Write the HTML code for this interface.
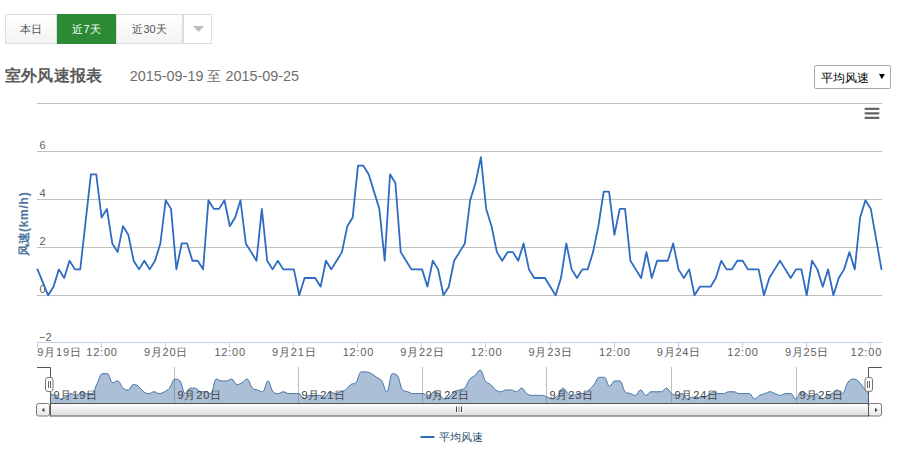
<!DOCTYPE html>
<html><head><meta charset="utf-8"><style>
html,body{margin:0;padding:0;background:#fff;width:900px;height:467px;overflow:hidden;position:relative;font-family:"Liberation Sans", sans-serif;}
.btn{position:absolute;top:14px;height:30px;box-sizing:border-box;border:1px solid #dddddd;background:linear-gradient(#ffffff,#f3f3f3);color:#555;font-size:11px;line-height:28px;text-align:center;}
.on{background:#2c8a35;border-color:#2c8a35;color:#fff;}
.title{position:absolute;left:4.5px;top:65.4px;font-size:16px;letter-spacing:0.4px;font-weight:bold;color:#5a5a5a;line-height:22px;white-space:nowrap;}
.date{position:absolute;left:129.8px;top:66px;font-size:14.4px;color:#6e6e6e;line-height:20px;white-space:nowrap;}
.sel{position:absolute;left:814px;top:65px;width:77px;height:24px;box-sizing:border-box;border:1px solid #a9a9a9;border-radius:2px;background:#fff;font-size:12px;color:#000;line-height:22px;}
</style></head><body>
<div class="btn" style="left:5px;width:52px;">本日</div>
<div class="btn on" style="left:57px;width:59px;">近7天</div>
<div class="btn" style="left:116px;width:67px;">近30天</div>
<div class="btn" style="left:183px;width:29px;background:#fff;"><svg width="12" height="7" style="position:absolute;left:8.5px;top:11px"><path d="M0 0 L11 0 L5.5 6 Z" fill="#bbbbbb"/></svg></div>
<div class="title">室外风速报表</div>
<div class="date">2015-09-19 至 2015-09-25</div>
<div class="sel"><span style="position:absolute;left:6px;top:0.5px">平均风速</span><svg width="8" height="7" style="position:absolute;left:64.4px;top:8px"><path d="M0 0 L5.8 0 L2.9 5.2 Z" fill="#000"/></svg></div>
<svg width="900" height="467" style="position:absolute;left:0;top:0" font-family='"Liberation Sans", sans-serif'>
<path d="M 37 103.5 L 882 103.5" stroke="#C0C0C0" stroke-width="1"/><path d="M 37 151.5 L 882 151.5" stroke="#C0C0C0" stroke-width="1"/><path d="M 37 199.5 L 882 199.5" stroke="#C0C0C0" stroke-width="1"/><path d="M 37 247.5 L 882 247.5" stroke="#C0C0C0" stroke-width="1"/><path d="M 37 295.5 L 882 295.5" stroke="#C0C0C0" stroke-width="1"/>
<path d="M 37 342.5 L 882 342.5" stroke="#C0D0E0" stroke-width="1"/>
<path d="M 37.5 343 L 37.5 348" stroke="#C0D0E0" stroke-width="1"/><path d="M 101.5 343 L 101.5 348" stroke="#C0D0E0" stroke-width="1"/><path d="M 165.5 343 L 165.5 348" stroke="#C0D0E0" stroke-width="1"/><path d="M 229.5 343 L 229.5 348" stroke="#C0D0E0" stroke-width="1"/><path d="M 293.5 343 L 293.5 348" stroke="#C0D0E0" stroke-width="1"/><path d="M 357.5 343 L 357.5 348" stroke="#C0D0E0" stroke-width="1"/><path d="M 421.5 343 L 421.5 348" stroke="#C0D0E0" stroke-width="1"/><path d="M 485.5 343 L 485.5 348" stroke="#C0D0E0" stroke-width="1"/><path d="M 550.5 343 L 550.5 348" stroke="#C0D0E0" stroke-width="1"/><path d="M 614.5 343 L 614.5 348" stroke="#C0D0E0" stroke-width="1"/><path d="M 678.5 343 L 678.5 348" stroke="#C0D0E0" stroke-width="1"/><path d="M 742.5 343 L 742.5 348" stroke="#C0D0E0" stroke-width="1"/><path d="M 806.5 343 L 806.5 348" stroke="#C0D0E0" stroke-width="1"/><path d="M 870.5 343 L 870.5 348" stroke="#C0D0E0" stroke-width="1"/>
<g font-size="11" fill="#606060"><text x="39.6" y="149">6</text><text x="39.6" y="197">4</text><text x="39.6" y="245">2</text><text x="39.6" y="293">0</text><text x="39.2" y="341">−2</text></g>
<g font-size="11" fill="#606060"><text x="37.3" y="356.1" text-anchor="start" letter-spacing="0.8">9月19日</text><text x="102.0" y="356.1" text-anchor="middle" letter-spacing="0.8">12:00</text><text x="166.1" y="356.1" text-anchor="middle" letter-spacing="0.8">9月20日</text><text x="230.2" y="356.1" text-anchor="middle" letter-spacing="0.8">12:00</text><text x="294.3" y="356.1" text-anchor="middle" letter-spacing="0.8">9月21日</text><text x="358.4" y="356.1" text-anchor="middle" letter-spacing="0.8">12:00</text><text x="422.5" y="356.1" text-anchor="middle" letter-spacing="0.8">9月22日</text><text x="486.6" y="356.1" text-anchor="middle" letter-spacing="0.8">12:00</text><text x="550.7" y="356.1" text-anchor="middle" letter-spacing="0.8">9月23日</text><text x="614.8" y="356.1" text-anchor="middle" letter-spacing="0.8">12:00</text><text x="678.9" y="356.1" text-anchor="middle" letter-spacing="0.8">9月24日</text><text x="743.0" y="356.1" text-anchor="middle" letter-spacing="0.8">12:00</text><text x="807.1" y="356.1" text-anchor="middle" letter-spacing="0.8">9月25日</text><text x="866.3" y="356.1" text-anchor="middle" letter-spacing="0.8">12:00</text></g>
<text transform="translate(28.3,223.8) rotate(-90)" text-anchor="middle" font-size="12" font-weight="bold" fill="#4d759e">风速<tspan letter-spacing="0.75">(km/h)</tspan></text>
<path d="M 37.50 269.38 L 42.84 282.34 L 48.18 295.30 L 53.52 286.66 L 58.87 269.38 L 64.21 278.02 L 69.55 260.74 L 74.89 269.38 L 80.23 269.38 L 85.57 221.86 L 90.92 174.34 L 96.26 174.34 L 101.60 217.54 L 106.94 208.90 L 112.28 243.46 L 117.62 252.10 L 122.97 226.18 L 128.31 234.82 L 133.65 260.74 L 138.99 269.38 L 144.33 260.74 L 149.67 269.38 L 155.02 260.74 L 160.36 243.46 L 165.70 200.26 L 171.04 208.90 L 176.38 269.38 L 181.72 243.46 L 187.07 243.46 L 192.41 260.74 L 197.75 260.74 L 203.09 269.38 L 208.43 200.26 L 213.77 208.90 L 219.12 208.90 L 224.46 200.26 L 229.80 226.18 L 235.14 217.54 L 240.48 200.26 L 245.82 243.46 L 251.17 252.10 L 256.51 260.74 L 261.85 208.90 L 267.19 260.74 L 272.53 269.38 L 277.88 260.74 L 283.22 269.38 L 288.56 269.38 L 293.90 269.38 L 299.24 295.30 L 304.58 278.02 L 309.92 278.02 L 315.27 278.02 L 320.61 286.66 L 325.95 260.74 L 331.29 269.38 L 336.63 260.74 L 341.97 252.10 L 347.32 226.18 L 352.66 217.54 L 358.00 165.70 L 363.34 165.70 L 368.68 174.34 L 374.02 191.62 L 379.37 208.90 L 384.71 260.74 L 390.05 174.34 L 395.39 182.98 L 400.73 252.10 L 406.07 260.74 L 411.42 269.38 L 416.76 269.38 L 422.10 269.38 L 427.44 286.66 L 432.78 260.74 L 438.12 269.38 L 443.47 295.30 L 448.81 286.66 L 454.15 260.74 L 459.49 252.10 L 464.83 243.46 L 470.17 200.26 L 475.52 182.98 L 480.86 157.06 L 486.20 208.90 L 491.54 226.18 L 496.88 252.10 L 502.22 260.74 L 507.57 252.10 L 512.91 252.10 L 518.25 260.74 L 523.59 243.46 L 528.93 269.38 L 534.27 278.02 L 539.62 278.02 L 544.96 278.02 L 550.30 286.66 L 555.64 295.30 L 560.98 278.02 L 566.32 243.46 L 571.67 269.38 L 577.01 278.02 L 582.35 269.38 L 587.69 269.38 L 593.03 252.10 L 598.37 226.18 L 603.72 191.62 L 609.06 191.62 L 614.40 234.82 L 619.74 208.90 L 625.08 208.90 L 630.42 260.74 L 635.77 269.38 L 641.11 278.02 L 646.45 252.10 L 651.79 278.02 L 657.13 260.74 L 662.47 260.74 L 667.82 260.74 L 673.16 243.46 L 678.50 269.38 L 683.84 278.02 L 689.18 269.38 L 694.52 295.30 L 699.87 286.66 L 705.21 286.66 L 710.55 286.66 L 715.89 278.02 L 721.23 260.74 L 726.57 269.38 L 731.92 269.38 L 737.26 260.74 L 742.60 260.74 L 747.94 269.38 L 753.28 269.38 L 758.62 269.38 L 763.97 295.30 L 769.31 278.02 L 774.65 269.38 L 779.99 260.74 L 785.33 269.38 L 790.67 278.02 L 796.02 269.38 L 801.36 269.38 L 806.70 295.30 L 812.04 260.74 L 817.38 269.38 L 822.72 286.66 L 828.07 269.38 L 833.41 295.30 L 838.75 278.02 L 844.09 269.38 L 849.43 252.10 L 854.77 269.38 L 860.12 217.54 L 865.46 200.26 L 870.80 208.90 L 876.14 239.14 L 881.48 269.38" fill="none" stroke="#2d6cc0" stroke-width="1.8" stroke-linejoin="round" stroke-linecap="round"/>
<g stroke="#666" stroke-width="2.2" stroke-linecap="round"><path d="M 865.5 108.8 L 878.5 108.8 M 865.5 113.3 L 878.5 113.3 M 865.5 117.8 L 878.5 117.8"/></g>
<!-- navigator -->
<path d="M 174.5 367 L 174.5 403" stroke="#C0C0C0" stroke-width="1"/><path d="M 298.5 367 L 298.5 403" stroke="#C0C0C0" stroke-width="1"/><path d="M 422.5 367 L 422.5 403" stroke="#C0C0C0" stroke-width="1"/><path d="M 546.5 367 L 546.5 403" stroke="#C0C0C0" stroke-width="1"/><path d="M 671.5 367 L 671.5 403" stroke="#C0C0C0" stroke-width="1"/><path d="M 796.5 367 L 796.5 403" stroke="#C0C0C0" stroke-width="1"/>
<path d="M 50.50 393.58 C 50.50 393.58 53.61 395.20 55.68 396.29 C 57.75 397.37 58.78 399.00 60.85 399.00 C 62.92 399.00 63.96 398.28 66.03 397.19 C 68.10 396.11 69.14 393.58 71.21 393.58 C 73.28 393.58 74.31 395.39 76.38 395.39 C 78.45 395.39 79.49 391.77 81.56 391.77 C 83.63 391.77 84.67 393.58 86.74 393.58 C 88.81 393.58 89.84 393.58 91.91 393.58 C 93.98 393.58 95.02 387.61 97.09 383.64 C 99.16 379.66 100.20 373.70 102.27 373.70 C 104.34 373.70 105.37 373.70 107.44 373.70 C 109.51 373.70 110.55 382.74 112.62 382.74 C 114.69 382.74 115.72 380.93 117.80 380.93 C 119.87 380.93 120.90 386.35 122.97 388.16 C 125.04 389.96 126.08 389.96 128.15 389.96 C 130.22 389.96 131.25 384.54 133.33 384.54 C 135.40 384.54 136.43 384.90 138.50 386.35 C 140.57 387.80 141.61 390.33 143.68 391.77 C 145.75 393.22 146.78 393.58 148.86 393.58 C 150.93 393.58 151.96 391.77 154.03 391.77 C 156.10 391.77 157.14 393.58 159.21 393.58 C 161.28 393.58 162.31 392.86 164.38 391.77 C 166.46 390.69 167.49 390.69 169.56 388.16 C 171.63 385.63 172.67 379.12 174.74 379.12 C 176.81 379.12 177.84 379.12 179.91 380.93 C 181.99 382.74 183.02 393.58 185.09 393.58 C 187.16 393.58 188.20 388.16 190.27 388.16 C 192.34 388.16 193.37 388.16 195.44 388.16 C 197.51 388.16 198.55 391.77 200.62 391.77 C 202.69 391.77 203.73 391.77 205.80 391.77 C 207.87 391.77 208.90 393.58 210.97 393.58 C 213.04 393.58 214.08 379.12 216.15 379.12 C 218.22 379.12 219.26 380.93 221.33 380.93 C 223.40 380.93 224.43 380.93 226.50 380.93 C 228.57 380.93 229.61 379.12 231.68 379.12 C 233.75 379.12 234.79 384.54 236.86 384.54 C 238.93 384.54 239.96 383.82 242.03 382.74 C 244.10 381.65 245.14 379.12 247.21 379.12 C 249.28 379.12 250.32 386.35 252.39 388.16 C 254.46 389.96 255.49 389.24 257.56 389.96 C 259.63 390.69 260.67 391.77 262.74 391.77 C 264.81 391.77 265.85 380.93 267.92 380.93 C 269.99 380.93 271.02 389.96 273.09 391.77 C 275.16 393.58 276.20 393.58 278.27 393.58 C 280.34 393.58 281.38 391.77 283.45 391.77 C 285.52 391.77 286.55 393.58 288.62 393.58 C 290.69 393.58 291.73 393.58 293.80 393.58 C 295.87 393.58 296.91 393.58 298.98 393.58 C 301.05 393.58 302.08 399.00 304.15 399.00 C 306.22 399.00 307.26 395.39 309.33 395.39 C 311.40 395.39 312.44 395.39 314.51 395.39 C 316.58 395.39 317.61 395.39 319.68 395.39 C 321.75 395.39 322.79 397.19 324.86 397.19 C 326.93 397.19 327.96 391.77 330.04 391.77 C 332.11 391.77 333.14 393.58 335.21 393.58 C 337.28 393.58 338.32 392.49 340.39 391.77 C 342.46 391.05 343.49 391.41 345.57 389.96 C 347.64 388.52 348.67 385.99 350.74 384.54 C 352.81 383.10 353.85 384.54 355.92 382.74 C 357.99 380.93 359.02 371.89 361.09 371.89 C 363.17 371.89 364.20 371.89 366.27 371.89 C 368.34 371.89 369.38 372.61 371.45 373.70 C 373.52 374.78 374.55 375.87 376.62 377.31 C 378.70 378.76 379.73 378.04 381.80 380.93 C 383.87 383.82 384.91 391.77 386.98 391.77 C 389.05 391.77 390.08 373.70 392.15 373.70 C 394.23 373.70 395.26 373.70 397.33 375.51 C 399.40 377.31 400.44 388.16 402.51 389.96 C 404.58 391.77 405.61 391.05 407.68 391.77 C 409.75 392.49 410.79 393.58 412.86 393.58 C 414.93 393.58 415.97 393.58 418.04 393.58 C 420.11 393.58 421.14 393.58 423.21 393.58 C 425.28 393.58 426.32 397.19 428.39 397.19 C 430.46 397.19 431.50 391.77 433.57 391.77 C 435.64 391.77 436.67 392.13 438.74 393.58 C 440.81 395.02 441.85 399.00 443.92 399.00 C 445.99 399.00 447.03 398.64 449.10 397.19 C 451.17 395.75 452.20 393.22 454.27 391.77 C 456.34 390.33 457.38 390.69 459.45 389.96 C 461.52 389.24 462.56 389.96 464.63 388.16 C 466.70 386.35 467.73 381.65 469.80 379.12 C 471.87 376.59 472.91 377.31 474.98 375.51 C 477.05 373.70 478.09 370.08 480.16 370.08 C 482.23 370.08 483.26 378.04 485.33 380.93 C 487.40 383.82 488.44 382.74 490.51 384.54 C 492.58 386.35 493.62 388.52 495.69 389.96 C 497.76 391.41 498.79 391.77 500.86 391.77 C 502.93 391.77 503.97 389.96 506.04 389.96 C 508.11 389.96 509.15 389.96 511.22 389.96 C 513.29 389.96 514.32 391.77 516.39 391.77 C 518.46 391.77 519.50 388.16 521.57 388.16 C 523.64 388.16 524.67 392.13 526.75 393.58 C 528.82 395.02 529.85 395.39 531.92 395.39 C 533.99 395.39 535.03 395.39 537.10 395.39 C 539.17 395.39 540.20 395.39 542.28 395.39 C 544.35 395.39 545.38 396.47 547.45 397.19 C 549.52 397.92 550.56 399.00 552.63 399.00 C 554.70 399.00 555.73 397.55 557.81 395.39 C 559.88 393.22 560.91 388.16 562.98 388.16 C 565.05 388.16 566.09 392.13 568.16 393.58 C 570.23 395.02 571.26 395.39 573.33 395.39 C 575.41 395.39 576.44 393.58 578.51 393.58 C 580.58 393.58 581.62 393.58 583.69 393.58 C 585.76 393.58 586.79 391.77 588.86 389.96 C 590.94 388.16 591.97 387.07 594.04 384.54 C 596.11 382.01 597.15 377.31 599.22 377.31 C 601.29 377.31 602.32 377.31 604.39 377.31 C 606.46 377.31 607.50 386.35 609.57 386.35 C 611.64 386.35 612.68 380.93 614.75 380.93 C 616.82 380.93 617.85 380.93 619.92 380.93 C 621.99 380.93 623.03 389.96 625.10 391.77 C 627.17 393.58 628.21 392.86 630.28 393.58 C 632.35 394.30 633.38 395.39 635.45 395.39 C 637.52 395.39 638.56 389.96 640.63 389.96 C 642.70 389.96 643.74 395.39 645.81 395.39 C 647.88 395.39 648.91 391.77 650.98 391.77 C 653.05 391.77 654.09 391.77 656.16 391.77 C 658.23 391.77 659.27 391.77 661.34 391.77 C 663.41 391.77 664.44 388.16 666.51 388.16 C 668.58 388.16 669.62 392.13 671.69 393.58 C 673.76 395.02 674.80 395.39 676.87 395.39 C 678.94 395.39 679.97 393.58 682.04 393.58 C 684.11 393.58 685.15 399.00 687.22 399.00 C 689.29 399.00 690.33 397.19 692.40 397.19 C 694.47 397.19 695.50 397.19 697.57 397.19 C 699.64 397.19 700.68 397.19 702.75 397.19 C 704.82 397.19 705.86 396.47 707.93 395.39 C 710.00 394.30 711.03 391.77 713.10 391.77 C 715.17 391.77 716.21 393.58 718.28 393.58 C 720.35 393.58 721.39 393.58 723.46 393.58 C 725.53 393.58 726.56 391.77 728.63 391.77 C 730.70 391.77 731.74 391.77 733.81 391.77 C 735.88 391.77 736.91 393.58 738.99 393.58 C 741.06 393.58 742.09 393.58 744.16 393.58 C 746.23 393.58 747.27 393.58 749.34 393.58 C 751.41 393.58 752.44 399.00 754.52 399.00 C 756.59 399.00 757.62 396.47 759.69 395.39 C 761.76 394.30 762.80 394.30 764.87 393.58 C 766.94 392.86 767.97 391.77 770.04 391.77 C 772.12 391.77 773.15 392.86 775.22 393.58 C 777.29 394.30 778.33 395.39 780.40 395.39 C 782.47 395.39 783.50 393.58 785.57 393.58 C 787.65 393.58 788.68 393.58 790.75 393.58 C 792.82 393.58 793.86 399.00 795.93 399.00 C 798.00 399.00 799.03 391.77 801.10 391.77 C 803.18 391.77 804.21 392.49 806.28 393.58 C 808.35 394.66 809.39 397.19 811.46 397.19 C 813.53 397.19 814.56 393.58 816.63 393.58 C 818.70 393.58 819.74 399.00 821.81 399.00 C 823.88 399.00 824.92 396.47 826.99 395.39 C 829.06 394.30 830.09 394.66 832.16 393.58 C 834.23 392.49 835.27 389.96 837.34 389.96 C 839.41 389.96 840.45 393.58 842.52 393.58 C 844.59 393.58 845.62 385.63 847.69 382.74 C 849.76 379.84 850.80 379.12 852.87 379.12 C 854.94 379.12 855.98 379.30 858.05 380.93 C 860.12 382.55 861.15 384.72 863.22 387.25 C 865.29 389.78 868.40 393.58 868.40 393.58 L 868.40 403 L 50.50 403 Z" fill="#4572A7" fill-opacity="0.45" stroke="none"/>
<path d="M 50.50 393.58 C 50.50 393.58 53.61 395.20 55.68 396.29 C 57.75 397.37 58.78 399.00 60.85 399.00 C 62.92 399.00 63.96 398.28 66.03 397.19 C 68.10 396.11 69.14 393.58 71.21 393.58 C 73.28 393.58 74.31 395.39 76.38 395.39 C 78.45 395.39 79.49 391.77 81.56 391.77 C 83.63 391.77 84.67 393.58 86.74 393.58 C 88.81 393.58 89.84 393.58 91.91 393.58 C 93.98 393.58 95.02 387.61 97.09 383.64 C 99.16 379.66 100.20 373.70 102.27 373.70 C 104.34 373.70 105.37 373.70 107.44 373.70 C 109.51 373.70 110.55 382.74 112.62 382.74 C 114.69 382.74 115.72 380.93 117.80 380.93 C 119.87 380.93 120.90 386.35 122.97 388.16 C 125.04 389.96 126.08 389.96 128.15 389.96 C 130.22 389.96 131.25 384.54 133.33 384.54 C 135.40 384.54 136.43 384.90 138.50 386.35 C 140.57 387.80 141.61 390.33 143.68 391.77 C 145.75 393.22 146.78 393.58 148.86 393.58 C 150.93 393.58 151.96 391.77 154.03 391.77 C 156.10 391.77 157.14 393.58 159.21 393.58 C 161.28 393.58 162.31 392.86 164.38 391.77 C 166.46 390.69 167.49 390.69 169.56 388.16 C 171.63 385.63 172.67 379.12 174.74 379.12 C 176.81 379.12 177.84 379.12 179.91 380.93 C 181.99 382.74 183.02 393.58 185.09 393.58 C 187.16 393.58 188.20 388.16 190.27 388.16 C 192.34 388.16 193.37 388.16 195.44 388.16 C 197.51 388.16 198.55 391.77 200.62 391.77 C 202.69 391.77 203.73 391.77 205.80 391.77 C 207.87 391.77 208.90 393.58 210.97 393.58 C 213.04 393.58 214.08 379.12 216.15 379.12 C 218.22 379.12 219.26 380.93 221.33 380.93 C 223.40 380.93 224.43 380.93 226.50 380.93 C 228.57 380.93 229.61 379.12 231.68 379.12 C 233.75 379.12 234.79 384.54 236.86 384.54 C 238.93 384.54 239.96 383.82 242.03 382.74 C 244.10 381.65 245.14 379.12 247.21 379.12 C 249.28 379.12 250.32 386.35 252.39 388.16 C 254.46 389.96 255.49 389.24 257.56 389.96 C 259.63 390.69 260.67 391.77 262.74 391.77 C 264.81 391.77 265.85 380.93 267.92 380.93 C 269.99 380.93 271.02 389.96 273.09 391.77 C 275.16 393.58 276.20 393.58 278.27 393.58 C 280.34 393.58 281.38 391.77 283.45 391.77 C 285.52 391.77 286.55 393.58 288.62 393.58 C 290.69 393.58 291.73 393.58 293.80 393.58 C 295.87 393.58 296.91 393.58 298.98 393.58 C 301.05 393.58 302.08 399.00 304.15 399.00 C 306.22 399.00 307.26 395.39 309.33 395.39 C 311.40 395.39 312.44 395.39 314.51 395.39 C 316.58 395.39 317.61 395.39 319.68 395.39 C 321.75 395.39 322.79 397.19 324.86 397.19 C 326.93 397.19 327.96 391.77 330.04 391.77 C 332.11 391.77 333.14 393.58 335.21 393.58 C 337.28 393.58 338.32 392.49 340.39 391.77 C 342.46 391.05 343.49 391.41 345.57 389.96 C 347.64 388.52 348.67 385.99 350.74 384.54 C 352.81 383.10 353.85 384.54 355.92 382.74 C 357.99 380.93 359.02 371.89 361.09 371.89 C 363.17 371.89 364.20 371.89 366.27 371.89 C 368.34 371.89 369.38 372.61 371.45 373.70 C 373.52 374.78 374.55 375.87 376.62 377.31 C 378.70 378.76 379.73 378.04 381.80 380.93 C 383.87 383.82 384.91 391.77 386.98 391.77 C 389.05 391.77 390.08 373.70 392.15 373.70 C 394.23 373.70 395.26 373.70 397.33 375.51 C 399.40 377.31 400.44 388.16 402.51 389.96 C 404.58 391.77 405.61 391.05 407.68 391.77 C 409.75 392.49 410.79 393.58 412.86 393.58 C 414.93 393.58 415.97 393.58 418.04 393.58 C 420.11 393.58 421.14 393.58 423.21 393.58 C 425.28 393.58 426.32 397.19 428.39 397.19 C 430.46 397.19 431.50 391.77 433.57 391.77 C 435.64 391.77 436.67 392.13 438.74 393.58 C 440.81 395.02 441.85 399.00 443.92 399.00 C 445.99 399.00 447.03 398.64 449.10 397.19 C 451.17 395.75 452.20 393.22 454.27 391.77 C 456.34 390.33 457.38 390.69 459.45 389.96 C 461.52 389.24 462.56 389.96 464.63 388.16 C 466.70 386.35 467.73 381.65 469.80 379.12 C 471.87 376.59 472.91 377.31 474.98 375.51 C 477.05 373.70 478.09 370.08 480.16 370.08 C 482.23 370.08 483.26 378.04 485.33 380.93 C 487.40 383.82 488.44 382.74 490.51 384.54 C 492.58 386.35 493.62 388.52 495.69 389.96 C 497.76 391.41 498.79 391.77 500.86 391.77 C 502.93 391.77 503.97 389.96 506.04 389.96 C 508.11 389.96 509.15 389.96 511.22 389.96 C 513.29 389.96 514.32 391.77 516.39 391.77 C 518.46 391.77 519.50 388.16 521.57 388.16 C 523.64 388.16 524.67 392.13 526.75 393.58 C 528.82 395.02 529.85 395.39 531.92 395.39 C 533.99 395.39 535.03 395.39 537.10 395.39 C 539.17 395.39 540.20 395.39 542.28 395.39 C 544.35 395.39 545.38 396.47 547.45 397.19 C 549.52 397.92 550.56 399.00 552.63 399.00 C 554.70 399.00 555.73 397.55 557.81 395.39 C 559.88 393.22 560.91 388.16 562.98 388.16 C 565.05 388.16 566.09 392.13 568.16 393.58 C 570.23 395.02 571.26 395.39 573.33 395.39 C 575.41 395.39 576.44 393.58 578.51 393.58 C 580.58 393.58 581.62 393.58 583.69 393.58 C 585.76 393.58 586.79 391.77 588.86 389.96 C 590.94 388.16 591.97 387.07 594.04 384.54 C 596.11 382.01 597.15 377.31 599.22 377.31 C 601.29 377.31 602.32 377.31 604.39 377.31 C 606.46 377.31 607.50 386.35 609.57 386.35 C 611.64 386.35 612.68 380.93 614.75 380.93 C 616.82 380.93 617.85 380.93 619.92 380.93 C 621.99 380.93 623.03 389.96 625.10 391.77 C 627.17 393.58 628.21 392.86 630.28 393.58 C 632.35 394.30 633.38 395.39 635.45 395.39 C 637.52 395.39 638.56 389.96 640.63 389.96 C 642.70 389.96 643.74 395.39 645.81 395.39 C 647.88 395.39 648.91 391.77 650.98 391.77 C 653.05 391.77 654.09 391.77 656.16 391.77 C 658.23 391.77 659.27 391.77 661.34 391.77 C 663.41 391.77 664.44 388.16 666.51 388.16 C 668.58 388.16 669.62 392.13 671.69 393.58 C 673.76 395.02 674.80 395.39 676.87 395.39 C 678.94 395.39 679.97 393.58 682.04 393.58 C 684.11 393.58 685.15 399.00 687.22 399.00 C 689.29 399.00 690.33 397.19 692.40 397.19 C 694.47 397.19 695.50 397.19 697.57 397.19 C 699.64 397.19 700.68 397.19 702.75 397.19 C 704.82 397.19 705.86 396.47 707.93 395.39 C 710.00 394.30 711.03 391.77 713.10 391.77 C 715.17 391.77 716.21 393.58 718.28 393.58 C 720.35 393.58 721.39 393.58 723.46 393.58 C 725.53 393.58 726.56 391.77 728.63 391.77 C 730.70 391.77 731.74 391.77 733.81 391.77 C 735.88 391.77 736.91 393.58 738.99 393.58 C 741.06 393.58 742.09 393.58 744.16 393.58 C 746.23 393.58 747.27 393.58 749.34 393.58 C 751.41 393.58 752.44 399.00 754.52 399.00 C 756.59 399.00 757.62 396.47 759.69 395.39 C 761.76 394.30 762.80 394.30 764.87 393.58 C 766.94 392.86 767.97 391.77 770.04 391.77 C 772.12 391.77 773.15 392.86 775.22 393.58 C 777.29 394.30 778.33 395.39 780.40 395.39 C 782.47 395.39 783.50 393.58 785.57 393.58 C 787.65 393.58 788.68 393.58 790.75 393.58 C 792.82 393.58 793.86 399.00 795.93 399.00 C 798.00 399.00 799.03 391.77 801.10 391.77 C 803.18 391.77 804.21 392.49 806.28 393.58 C 808.35 394.66 809.39 397.19 811.46 397.19 C 813.53 397.19 814.56 393.58 816.63 393.58 C 818.70 393.58 819.74 399.00 821.81 399.00 C 823.88 399.00 824.92 396.47 826.99 395.39 C 829.06 394.30 830.09 394.66 832.16 393.58 C 834.23 392.49 835.27 389.96 837.34 389.96 C 839.41 389.96 840.45 393.58 842.52 393.58 C 844.59 393.58 845.62 385.63 847.69 382.74 C 849.76 379.84 850.80 379.12 852.87 379.12 C 854.94 379.12 855.98 379.30 858.05 380.93 C 860.12 382.55 861.15 384.72 863.22 387.25 C 865.29 389.78 868.40 393.58 868.40 393.58" fill="none" stroke="#4572A7" stroke-width="1"/>
<g font-size="11" fill="#444"><text x="53.5" y="399.4" letter-spacing="0.8">9月19日</text><text x="177.5" y="399.4" letter-spacing="0.8">9月20日</text><text x="301.5" y="399.4" letter-spacing="0.8">9月21日</text><text x="425.5" y="399.4" letter-spacing="0.8">9月22日</text><text x="549.5" y="399.4" letter-spacing="0.8">9月23日</text><text x="674.5" y="399.4" letter-spacing="0.8">9月24日</text><text x="799.5" y="399.4" letter-spacing="0.8">9月25日</text></g>
<defs>
<linearGradient id="sb" x1="0" y1="0" x2="0" y2="1"><stop offset="0" stop-color="#ffffff"/><stop offset="1" stop-color="#dcdcdc"/></linearGradient>
<linearGradient id="hb" x1="0" y1="0" x2="0" y2="1"><stop offset="0" stop-color="#ffffff"/><stop offset="1" stop-color="#e8e8e8"/></linearGradient>
</defs>
<rect x="50.5" y="403.5" width="818" height="12.5" fill="url(#sb)" stroke="#555" stroke-width="1"/>
<rect x="36.5" y="403.5" width="13" height="12.5" rx="2" fill="url(#hb)" stroke="#777" stroke-width="1"/>
<rect x="868.5" y="403.5" width="13" height="12.5" rx="2" fill="url(#hb)" stroke="#777" stroke-width="1"/>
<path d="M 44.4 407.8 L 41.7 410 L 44.4 412.2 Z" fill="#444"/>
<path d="M 875 407.8 L 877.7 410 L 875 412.2 Z" fill="#444"/>
<path d="M 456.5 406.5 L 456.5 412 M 461.5 406.5 L 461.5 412" stroke="#444" stroke-width="1"/><path d="M 459 406.5 L 459 412" stroke="#999" stroke-width="1"/>
<path d="M 37 367.5 L 50.5 367.5 L 50.5 416.5 M 868.5 416.5 L 868.5 367.5 L 882 367.5" fill="none" stroke="#555" stroke-width="1"/>
<rect x="45.5" y="377.5" width="7.5" height="14" rx="2.5" fill="#fff" stroke="#777" stroke-width="1"/>
<path d="M 48.5 381 L 48.5 388 M 50.5 381 L 50.5 388" stroke="#666" stroke-width="1"/>
<rect x="865" y="377.5" width="7.5" height="14" rx="2.5" fill="#fff" stroke="#777" stroke-width="1"/>
<path d="M 867.5 381 L 867.5 388 M 869.5 381 L 869.5 388" stroke="#666" stroke-width="1"/>
<!-- legend -->
<path d="M 420.5 437 L 434.5 437" stroke="#2d6cc0" stroke-width="2"/>
<text x="439.3" y="441.3" font-size="11" letter-spacing="-0.1" fill="#274b6d">平均风速</text>
</svg>
</body></html>
